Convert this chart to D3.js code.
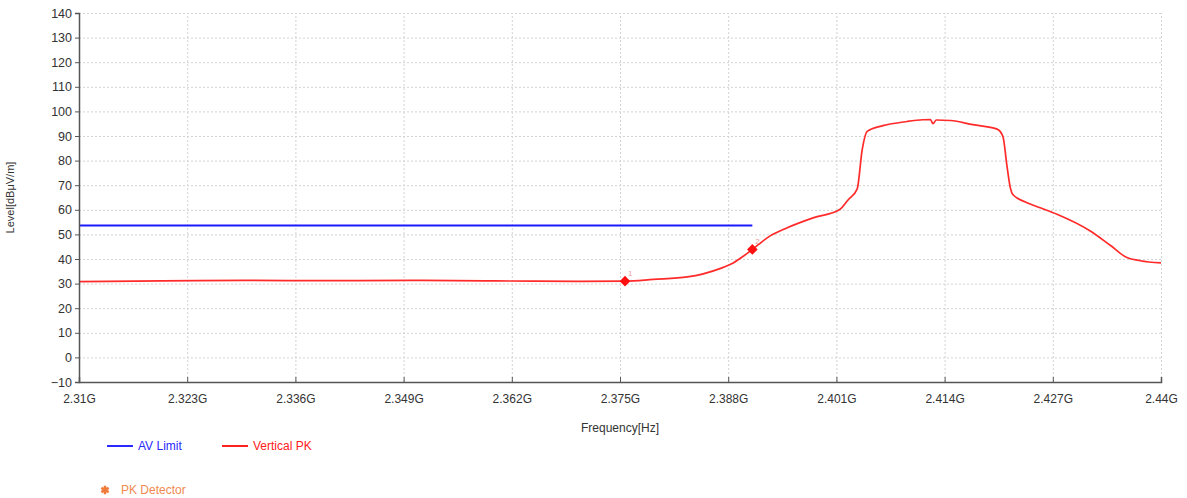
<!DOCTYPE html>
<html>
<head>
<meta charset="utf-8">
<script src="https://cdn.jsdelivr.net/npm/d3@7"></script>
<style>
  body { margin: 0; background: #fff; }
  svg text { font-family: "Liberation Sans", Arial, sans-serif; }
  .grid line { stroke: #d2d2d2; stroke-dasharray: 2,2; }
  .grid path { display: none; }
</style>
</head>
<body>
<div id="wrapper"></div>
<script>
// 1. Data (frequency in GHz, level in dBuV/m)
const xTicks = [2.31, 2.323, 2.336, 2.349, 2.362, 2.375, 2.388, 2.401, 2.414, 2.427, 2.44];
const yTicks = [-10, 0, 10, 20, 30, 40, 50, 60, 70, 80, 90, 100, 110, 120, 130, 140];

const pkFreq = [
  2.31, 2.32, 2.33, 2.34, 2.35, 2.36, 2.37, 2.3756, 2.379, 2.3831, 2.387, 2.3886,
  2.3898, 2.3909, 2.393, 2.3951, 2.3982, 2.4014, 2.4024, 2.4035, 2.4041, 2.4047,
  2.4066, 2.4095, 2.4114, 2.4123, 2.4126, 2.413, 2.4147, 2.4174, 2.4203, 2.421,
  2.4215, 2.4219, 2.4222, 2.4239, 2.4255, 2.4275, 2.4315, 2.4339, 2.4359, 2.4375, 2.44
];
const pkLevel = [
  30.8, 31.1, 31.3, 31.2, 31.3, 31.1, 30.9, 31.0, 31.7, 32.7, 36.1, 38.4,
  41.1, 43.9, 49.3, 52.7, 56.7, 60.1, 64.0, 68.5, 84.5, 91.9,
  94.2, 95.9, 96.6, 96.7, 95.0, 96.5, 96.3, 94.6, 92.8, 89.9,
  77.7, 68.9, 66.2, 62.9, 60.8, 58.2, 51.4, 45.6, 40.6, 39.3, 38.4
];
const limitFreq = [2.31, 2.3909];
const limitLevel = [53.6, 53.6];
const markerFreq = [2.3756, 2.3909];
const markerLevel = [31.0, 43.9];
const markerIds = ["1", "2"];

const pkData = pkFreq.map((f, i) => ({ f, v: pkLevel[i] }));
const limitData = limitFreq.map((f, i) => ({ f, v: limitLevel[i] }));
const markerData = markerFreq.map((f, i) => ({ f, v: markerLevel[i], id: markerIds[i] }));

// 2. Dimensions
const dimensions = {
  width: 1187,
  height: 498,
  margin: { top: 13, right: 26, bottom: 116, left: 79 },
};
dimensions.boundedWidth = dimensions.width - dimensions.margin.left - dimensions.margin.right;
dimensions.boundedHeight = dimensions.height - dimensions.margin.top - dimensions.margin.bottom;

// 3. Canvas
const wrapper = d3.select("#wrapper").append("svg")
  .attr("width", dimensions.width)
  .attr("height", dimensions.height);

const bounds = wrapper.append("g")
  .attr("transform", `translate(${dimensions.margin.left},${dimensions.margin.top})`);

// 4. Scales
const xScale = d3.scaleLinear().domain([2.31, 2.44]).range([0, dimensions.boundedWidth]);
const yScale = d3.scaleLinear().domain([-10, 140]).range([dimensions.boundedHeight, 0]);

// grid
bounds.append("g").attr("class", "grid")
  .call(d3.axisLeft(yScale).tickValues(yTicks).tickSize(-dimensions.boundedWidth).tickFormat(""));
bounds.append("g").attr("class", "grid")
  .attr("transform", `translate(0,${dimensions.boundedHeight})`)
  .call(d3.axisBottom(xScale).tickValues(xTicks).tickSize(-dimensions.boundedHeight).tickFormat(""));

// 5. Data
const line = d3.line().x(d => xScale(d.f)).y(d => yScale(d.v));

bounds.append("path").datum(limitData)
  .attr("d", line).attr("fill", "none")
  .attr("stroke", "#1a1aff").attr("stroke-width", 2);

bounds.append("path").datum(pkData)
  .attr("d", line.curve(d3.curveMonotoneX)).attr("fill", "none")
  .attr("stroke", "#ff2a2a").attr("stroke-width", 1.7)
  .attr("stroke-linejoin", "round");

// markers: square turned 45 degrees
const square = d3.symbol().type(d3.symbolSquare).size(56);
bounds.selectAll(".marker").data(markerData).join("path")
  .attr("class", "marker")
  .attr("d", square)
  .attr("transform", d => `translate(${xScale(d.f)},${yScale(d.v)}) rotate(45)`)
  .attr("fill", "#ff1010");
bounds.selectAll(".marker-id").data(markerData).join("text")
  .attr("class", "marker-id")
  .attr("x", d => xScale(d.f) + 3)
  .attr("y", d => yScale(d.v) - 5)
  .attr("font-size", 8)
  .attr("fill", "#f0a0a0")
  .text(d => d.id);

// 6. Axes
const xAxis = bounds.append("g")
  .attr("transform", `translate(0,${dimensions.boundedHeight})`)
  .call(d3.axisBottom(xScale).tickValues(xTicks).tickSize(-5).tickPadding(12)
    .tickFormat(d => d3.format("")(+d.toFixed(3)) + "G"));
const yAxis = bounds.append("g")
  .call(d3.axisLeft(yScale).tickValues(yTicks).tickSize(4).tickPadding(3));

[xAxis, yAxis].forEach(ax => {
  ax.select(".domain").attr("stroke", "#555").attr("stroke-width", 1.5);
  ax.selectAll(".tick line").attr("stroke", "#555");
  ax.selectAll(".tick text").attr("font-size", 12).attr("fill", "#333");
});
yAxis.selectAll(".tick text").attr("font-size", 12.5);

wrapper.append("text")
  .attr("transform", `translate(14,${dimensions.margin.top + dimensions.boundedHeight / 2}) rotate(-90)`)
  .attr("text-anchor", "middle")
  .attr("font-size", 11)
  .attr("fill", "#333")
  .text("Level[dBμV/m]");

wrapper.append("text")
  .attr("x", 620).attr("y", 432)
  .attr("text-anchor", "middle")
  .attr("font-size", 12)
  .attr("fill", "#333")
  .text("Frequency[Hz]");

// legend
const legend = wrapper.append("g");
const legendItems = [
  { label: "AV Limit", color: "#2a2aff", x: 107 },
  { label: "Vertical PK", color: "#ff2020", x: 222 },
];
legendItems.forEach(item => {
  legend.append("line")
    .attr("x1", item.x).attr("x2", item.x + 26)
    .attr("y1", 446).attr("y2", 446)
    .attr("stroke", item.color).attr("stroke-width", 2);
  legend.append("text")
    .attr("x", item.x + 31).attr("y", 450)
    .attr("font-size", 12)
    .attr("fill", item.color)
    .text(item.label);
});
legend.append("path")
  .attr("d", d3.symbol().type(d3.symbolAsterisk).size(50))
  .attr("transform", "translate(105,490)")
  .attr("stroke", "#f07a3a").attr("stroke-width", 2.5);
legend.append("text")
  .attr("x", 121).attr("y", 494)
  .attr("font-size", 12)
  .attr("fill", "#f08a50")
  .text("PK Detector");
</script>
</body>
</html>
